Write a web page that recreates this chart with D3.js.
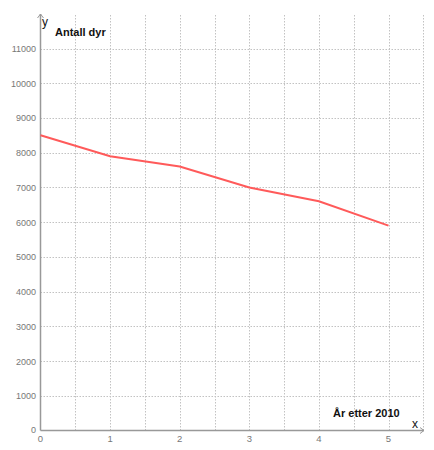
<!DOCTYPE html>
<html><head><meta charset="utf-8">
<script src="https://cdn.jsdelivr.net/npm/d3@7"></script>
<style>body{margin:0;background:#fff;}svg{display:block;font-family:Arial,"Liberation Sans",sans-serif;}</style>
</head><body>
<svg id="c" width="434" height="450"></svg>
<script>
const years = [0, 1, 2, 3, 4, 5];
const animals = [8500, 7900, 7600, 7000, 6600, 5900];
const xTicks = [0, 1, 2, 3, 4, 5];
const yTicks = [0, 1000, 2000, 3000, 4000, 5000, 6000, 7000, 8000, 9000, 10000, 11000];
const xGrid = [0.5, 1, 1.5, 2, 2.5, 3, 3.5, 4, 4.5, 5, 5.5];
const yLabel = "Antall dyr";
const xLabel = "År etter 2010";

const svg = d3.select("#c");
const x = d3.scaleLinear().domain([0, 5]).range([40.5, 388.5]);
const y = d3.scaleLinear().domain([0, 11000]).range([430.5, 48.5]);
const plotTop = 15, plotRight = 421;

const g = svg.append("g");
const gridCol = "#c2c2c2";
g.selectAll(".vg").data(xGrid).join("line")
  .attr("x1", d => Math.round(x(d)) + 0.5).attr("x2", d => Math.round(x(d)) + 0.5)
  .attr("y1", plotTop).attr("y2", y(0))
  .attr("stroke", gridCol).attr("stroke-width", 1).attr("stroke-dasharray", "1.5,1.5");
g.selectAll(".hg").data(yTicks.slice(1)).join("line")
  .attr("x1", x(0)).attr("x2", plotRight)
  .attr("y1", d => Math.round(y(d)) + 0.5).attr("y2", d => Math.round(y(d)) + 0.5)
  .attr("stroke", gridCol).attr("stroke-width", 1).attr("stroke-dasharray", "1.5,1.5");

// axes
const axCol = "#999";
g.append("line").attr("x1", x(0)).attr("x2", x(0)).attr("y1", y(0)).attr("y2", plotTop - 1)
  .attr("stroke", axCol).attr("stroke-width", 1.5);
g.append("path").attr("d", `M${x(0)-3},${plotTop+3} L${x(0)},${plotTop-1} L${x(0)+3},${plotTop+3}`)
  .attr("fill", "none").attr("stroke", axCol).attr("stroke-width", 1);
g.append("line").attr("x1", x(0)).attr("x2", plotRight + 3).attr("y1", y(0)).attr("y2", y(0))
  .attr("stroke", axCol).attr("stroke-width", 1.5);
g.append("path").attr("d", `M${plotRight-1},${y(0)-3} L${plotRight+3},${y(0)} L${plotRight-1},${y(0)+3}`)
  .attr("fill", "none").attr("stroke", axCol).attr("stroke-width", 1);

// tick labels
g.selectAll(".xt").data(xTicks).join("text")
  .attr("x", d => x(d)).attr("y", 442).attr("text-anchor", "middle")
  .attr("font-size", 9.5).attr("fill", "#777").text(d => d);
g.selectAll(".yt").data(yTicks).join("text")
  .attr("x", 36).attr("y", d => d === 0 ? y(d) + 2 : y(d) + 3.5).attr("text-anchor", "end")
  .attr("font-size", 9).attr("fill", "#777").text(d => d);

// axis letters and labels
svg.append("text").attr("x", 42).attr("y", 26).attr("font-size", 12).attr("fill", "#111").text("y");
svg.append("text").attr("x", 412).attr("y", 428).attr("font-size", 12).attr("fill", "#111").text("x");
svg.append("text").attr("x", 55).attr("y", 36).attr("font-size", 11).attr("font-weight", "bold").attr("fill", "#111").text(yLabel);
svg.append("text").attr("x", 333).attr("y", 417).attr("font-size", 11).attr("font-weight", "bold").attr("fill", "#111").text(xLabel);

// line
const line = d3.line().x((d, i) => x(years[i])).y(d => y(d));
svg.append("path").datum(animals).attr("d", line)
  .attr("fill", "none").attr("stroke", "#ff5a5a").attr("stroke-width", 2);
</script>
</body></html>
